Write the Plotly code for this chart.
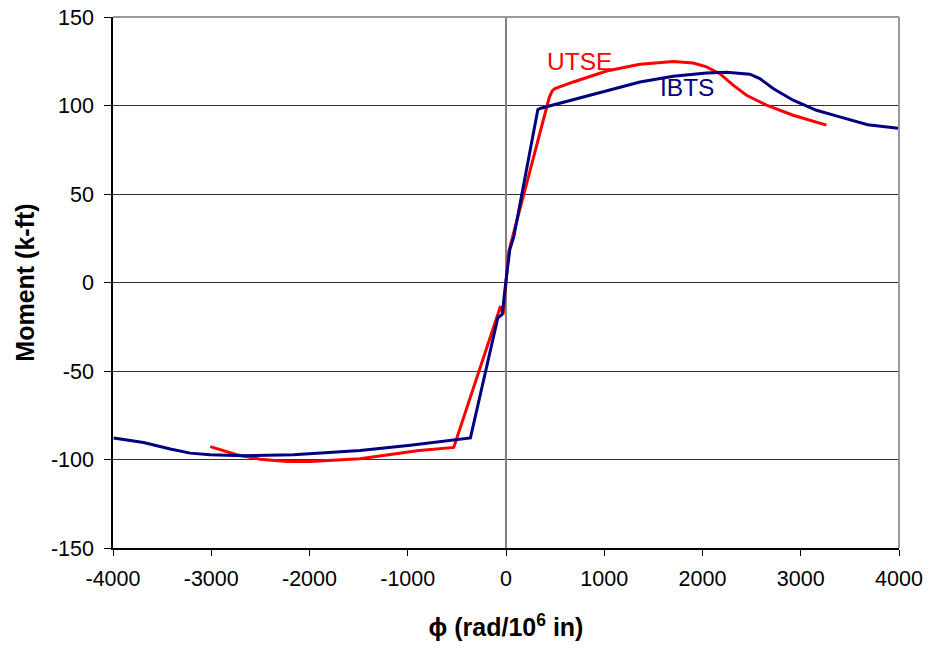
import plotly.graph_objects as go

# IBTS series (navy)
ibts_x = [-3994, -3689, -3417, -3214, -3010, -2672, -2163, -1485, -973, -362, -83, -39, 5, 39, 80,
          324, 346, 685, 1024, 1363, 1702, 2041, 2244, 2482, 2583, 2719, 2922, 3160, 3397, 3681, 3990]
ibts_y = [-87.9, -90.4, -94.1, -96.4, -97.3, -97.9, -97.3, -94.9, -91.9, -87.8, -19.9, -18.0, 3.6, 18.6, 26.0,
          97.6, 98.3, 103.4, 108.6, 113.3, 116.5, 118.4, 118.8, 117.7, 115.2, 109.6, 103.0, 97.3, 93.6, 89.1, 87.2]

# UTSE series (red)
utse_x = [-3010, -2739, -2502, -2230, -1993, -1485, -905, -532, -56, -29, 29, 440, 470, 498,
          685, 1024, 1363, 1702, 1905, 2041, 2176, 2312, 2448, 2651, 2922, 3262]
utse_y = [-92.7, -97.3, -99.8, -101.1, -101.1, -99.6, -95.1, -93.2, -13.4, -18.0, 17.7, 104.5, 108.3, 109.6,
          113.3, 119.5, 123.3, 124.8, 124.0, 121.8, 118.0, 111.5, 105.8, 100.2, 94.5, 88.9]

x_ticks = [-4000, -3000, -2000, -1000, 0, 1000, 2000, 3000, 4000]
x_tick_text = ["-4000", "-3000", "-2000", "-1000", "0", "1000", "2000", "3000", "4000"]
y_ticks = [-150, -100, -50, 0, 50, 100, 150]
y_tick_text = ["-150", "-100", "-50", "0", "50", "100", "150"]

FONT = "Liberation Sans, Arial, sans-serif"

fig = go.Figure()
fig.add_trace(go.Scatter(x=utse_x, y=utse_y, mode="lines", name="UTSE",
                         line=dict(color="#FF0000", width=3)))
fig.add_trace(go.Scatter(x=ibts_x, y=ibts_y, mode="lines", name="IBTS",
                         line=dict(color="#000080", width=3)))

fig.add_annotation(x=753, y=124.7, text="UTSE", showarrow=False,
                   font=dict(family=FONT, size=24.5, color="#FF0000"))
fig.add_annotation(x=1846, y=110.3, text="IBTS", showarrow=False,
                   font=dict(family=FONT, size=24.5, color="#000080"))

# gray frame on top and right of the plot area
fig.add_shape(type="line", xref="paper", yref="paper", x0=0, x1=1, y0=1, y1=1,
              layer="above", line=dict(color="#999999", width=2))
fig.add_shape(type="line", xref="paper", yref="paper", x0=1, x1=1, y0=0, y1=1,
              layer="above", line=dict(color="#999999", width=2))

fig.update_layout(
    width=929, height=648,
    margin=dict(l=113, r=30, t=17, b=100, autoexpand=False),
    paper_bgcolor="white", plot_bgcolor="white",
    showlegend=False,
    font=dict(family=FONT, color="black"),
    xaxis=dict(
        range=[-4000, 4000], tickvals=x_ticks, ticktext=x_tick_text,
        automargin=False, ticklabeloverflow="allow",
        showgrid=False, zeroline=True, zerolinecolor="#808080", zerolinewidth=2,
        showline=True, linecolor="black", linewidth=1.5,
        ticks="outside", ticklen=6, tickcolor="black", tickwidth=1,
        tickfont=dict(family=FONT, size=21.5, color="black"),
        ticklabelstandoff=4,
        title=dict(text="<b>\u03d5 (rad/10<sup>6</sup> in)</b>",
                   font=dict(family=FONT, size=25, color="black"), standoff=29),
    ),
    yaxis=dict(
        range=[-150, 150], tickvals=y_ticks, ticktext=y_tick_text,
        automargin=False, ticklabeloverflow="allow",
        showgrid=True, gridcolor="#333333", gridwidth=1,
        zeroline=True, zerolinecolor="#333333", zerolinewidth=1,
        showline=True, linecolor="black", linewidth=1.5,
        ticks="outside", ticklen=7, tickcolor="black", tickwidth=1,
        tickfont=dict(family=FONT, size=21.5, color="black"),
        ticklabelstandoff=6,
        title=dict(text="<b>Moment (k-ft)</b>",
                   font=dict(family=FONT, size=25, color="black"), standoff=9),
    ),
)

# remove the default page margin so the figure fills the window exactly
fig.write_html("out.html", config={"displayModeBar": False},
               post_script="document.body.style.margin='0';")
